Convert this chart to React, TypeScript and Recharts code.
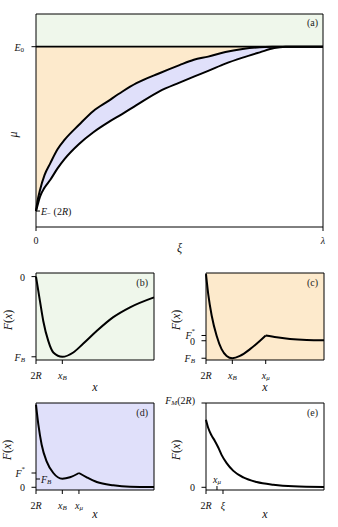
import {
  Area,
  ComposedChart,
  Line,
  ReferenceArea,
  ReferenceLine,
  XAxis,
  YAxis,
} from "recharts";

const FONT = "'Liberation Serif', 'DejaVu Serif', serif";
const GREEN = "#eff7eb";
const ORANGE = "#fdeacc";
const BLUE = "#e0e0fa";

// (a) mu vs xi
const E0 = 0.8465;
const EMinus = 0.075;
const aXi = [0, 0.005, 0.014, 0.03, 0.05, 0.075, 0.1, 0.15, 0.2, 0.25, 0.3, 0.35, 0.43, 0.5, 0.55, 0.6, 0.66, 0.72, 0.78, 0.83, 0.87, 0.9, 1];
const aUpper = [0.075, 0.12, 0.174, 0.245, 0.3, 0.365, 0.41, 0.48, 0.545, 0.59, 0.635, 0.675, 0.722, 0.76, 0.785, 0.8, 0.822, 0.836, 0.844, 0.846, 0.8465, 0.8465, 0.8465];
const aLower = [0.075, 0.1, 0.142, 0.185, 0.222, 0.275, 0.32, 0.39, 0.445, 0.49, 0.53, 0.572, 0.637, 0.678, 0.706, 0.733, 0.767, 0.795, 0.82, 0.84, 0.846, 0.8465, 0.8465];
const aXTicks = [0, 1];
const aXTickLabels = ["0", "λ"];
const aYTicks = [EMinus, E0];
const aYTickLabels = ["E_− (2R)", "E_0"];

// (b)
const bX = [0, 0.034, 0.062, 0.104, 0.147, 0.223, 0.316, 0.401, 0.514, 0.655, 0.797, 1.0];
const bF = [0, -0.309, -0.556, -0.802, -0.946, -1.0, -0.946, -0.835, -0.679, -0.506, -0.383, -0.259];
const bXTicks = [0, 0.223];
const bXTickLabels = ["2R", "x_B"];
const bYTicks = [-1, 0];
const bYTickLabels = ["F_B", "0"];

// (c)
const cX = [0, 0.02, 0.048, 0.09, 0.132, 0.175, 0.223, 0.288, 0.373, 0.458, 0.506, 0.599, 0.712, 0.853, 1.0];
const cF = [3.8, 2.6, 1.445, 0.289, -0.48, -0.867, -1.0, -0.867, -0.48, 0, 0.3, 0.197, 0.098, 0.04, 0.023];
const cXTicks = [0, 0.223, 0.506];
const cXTickLabels = ["2R", "x_B", "x_μ"];
const cYTicks = [-1, 0, 0.3];
const cYTickLabels = ["F_B", "0", "F^*"];

// (d)
const dX = [0, 0.02, 0.048, 0.09, 0.147, 0.223, 0.288, 0.364, 0.43, 0.515, 0.655, 0.797, 1.0];
const dF = [5.78, 4.38, 2.98, 1.82, 1.0, 0.6, 0.7, 1.0, 0.7, 0.37, 0.14, 0.04, 0.02];
const dXTicks = [0, 0.223, 0.364];
const dXTickLabels = ["2R", "x_B", "x_μ"];
const dYTicks = [0, 0.58, 1];
const dYTickLabels = ["0", "F_B", "F^*"];

// (e)
const eX = [0, 0.02, 0.048, 0.075, 0.104, 0.132, 0.175, 0.232, 0.316, 0.429, 0.57, 0.74, 1.0];
const eF = [0.8, 0.7, 0.613, 0.55, 0.472, 0.385, 0.287, 0.195, 0.117, 0.063, 0.031, 0.012, 0.004];
const eXTicks = [0, 0.144, 0.093];
const eXTickLabels = ["2R", "ξ", "x_μ"];
const eYTicks = [0, 1];
const eYTickLabels = ["0", "F_M(2R)"];

// tiny math-ish text: letters italic, _c subscript, ^c superscript
function math(s: string, fs: number) {
  const parts: any[] = [];
  let cur = 0;
  for (let i = 0, k = 0; i < s.length; i++, k++) {
    let ch = s[i];
    let shift = 0;
    if ((ch === "_" || ch === "^") && i + 1 < s.length) {
      shift = ch === "_" ? 0.3 * fs : -0.4 * fs;
      i++;
      ch = s[i];
    }
    const italic = /[A-Za-z\u0370-\u03ff]/.test(ch);
    parts.push(
      <tspan
        key={k}
        dy={shift - cur}
        fontSize={shift ? fs * 0.7 : fs}
        fontStyle={italic ? "italic" : "normal"}
      >
        {ch}
      </tspan>
    );
    cur = shift;
  }
  return parts;
}

function makeYTick(ticks: number[], labels: string[], inner: number[], gap: number, top: number) {
  return (props: any) => {
    const { x, y, payload } = props;
    const lab = labels[ticks.indexOf(payload.value)] ?? "";
    const isIn = inner.includes(payload.value);
    const dyTop = payload.value === top ? -3 : 0;
    return (
      <g>
        <line x1={x} x2={isIn ? x + 4 : x - 4.5} y1={y} y2={y} stroke="#000" strokeWidth={1} />
        <text
          x={isIn ? x + 5 : x - gap}
          y={y + dyTop}
          textAnchor={isIn ? "start" : "end"}
          dominantBaseline="central"
          fontSize={10}
          fontFamily={FONT}
          fill="#111"
        >
          {math(lab, 10)}
        </text>
      </g>
    );
  };
}

function makeXTick(ticks: number[], labels: string[], inner: number[], gap: number) {
  return (props: any) => {
    const { x, y, payload } = props;
    const lab = labels[ticks.indexOf(payload.value)] ?? "";
    const isIn = inner.includes(payload.value);
    return (
      <g>
        <line x1={x} x2={x} y1={y} y2={isIn ? y - 4 : y + 4} stroke="#000" strokeWidth={1} />
        <text
          x={x}
          y={isIn ? y - 11 : y + gap}
          textAnchor="middle"
          dominantBaseline="central"
          fontSize={10}
          fontFamily={FONT}
          fill="#111"
        >
          {math(lab, 10)}
        </text>
      </g>
    );
  };
}

function xTitle(txt: string, dy: number, fs: number) {
  return {
    content: (p: any) => {
      const vb = p.viewBox;
      return (
        <text
          x={vb.x + vb.width / 2}
          y={vb.y + dy}
          textAnchor="middle"
          dominantBaseline="central"
          fontSize={fs}
          fontFamily={FONT}
          fill="#111"
        >
          {math(txt, fs)}
        </text>
      );
    },
  };
}

function yTitle(txt: string, dx: number, dy: number, fs: number) {
  return {
    content: (p: any) => {
      const vb = p.viewBox;
      const cx = vb.x + dx;
      const cy = vb.y + vb.height / 2 + dy;
      return (
        <text
          x={cx}
          y={cy}
          transform={`rotate(-90 ${cx} ${cy})`}
          textAnchor="middle"
          dominantBaseline="central"
          fontSize={fs}
          fontFamily={FONT}
          fill="#111"
        >
          {math(txt, fs)}
        </text>
      );
    },
  };
}

const tagLabel = (t: string, off: number) => ({
  value: t,
  position: "insideTopRight" as const,
  offset: off,
  fontSize: 10,
  fontFamily: FONT,
  fill: "#222",
});

function PanelA() {
  const rows = aXi.map((xi, i) => ({
    xi,
    up: aUpper[i],
    lo: aLower[i],
    orange: [aUpper[i], E0],
    blue: [aLower[i], aUpper[i]],
  }));
  return (
    <ComposedChart
      width={338}
      height={260}
      data={rows}
      margin={{ top: 14, right: 15, bottom: 0, left: 0 }}
      style={{ position: "absolute", left: 0, top: 0 }}
    >
      <XAxis
        type="number"
        dataKey="xi"
        domain={[0, 1]}
        ticks={aXTicks}
        interval={0}
        height={33}
        axisLine={false}
        tickLine={false}
        tickSize={0}
        tickMargin={0}
        tick={makeXTick(aXTicks, aXTickLabels, [], 13)}
        label={xTitle("ξ", 21, 12)}
      />
      <YAxis
        type="number"
        domain={[0, 1]}
        ticks={aYTicks}
        interval={0}
        width={36}
        axisLine={false}
        tickLine={false}
        tickSize={0}
        tickMargin={0}
        allowDataOverflow
        tick={makeYTick(aYTicks, aYTickLabels, [EMinus], 12, -99)}
        label={yTitle("μ", 13, 14, 12)}
      />
      <ReferenceArea x1={0} x2={1} y1={E0} y2={1} fill={GREEN} fillOpacity={1} stroke="none" />
      <Area dataKey="orange" type="monotone" fill={ORANGE} fillOpacity={1} stroke="none" isAnimationActive={false} />
      <Area dataKey="blue" type="monotone" fill={BLUE} fillOpacity={1} stroke="none" isAnimationActive={false} />
      <ReferenceLine y={E0} stroke="#000" strokeWidth={1.8} />
      <Line dataKey="up" type="monotone" stroke="#000" strokeWidth={2} dot={false} isAnimationActive={false} />
      <Line dataKey="lo" type="monotone" stroke="#000" strokeWidth={2} dot={false} isAnimationActive={false} />
      <ReferenceArea
        x1={0}
        x2={1}
        y1={0}
        y2={1}
        fill="none"
        stroke="#000"
        strokeWidth={1}
        label={tagLabel("(a)", 5)}
      />
    </ComposedChart>
  );
}

type SmallProps = {
  left: number;
  top: number;
  width: number;
  height: number;
  yAxisW: number;
  rightMargin: number;
  xAxisH: number;
  xs: number[];
  fs: number[];
  split?: number;
  yDomain: [number, number];
  xTicks: number[];
  xLabels: string[];
  xInner?: number[];
  yTicks: number[];
  yLabels: string[];
  yInner?: number[];
  bg: string;
  tag: string;
  titleDx: number;
};

function SmallPanel(p: SmallProps) {
  // split the curve at the cusp so the spline keeps the corner
  const rows = p.xs.map((x, i) => ({
    x,
    l: p.split === undefined || i <= p.split ? p.fs[i] : null,
    r: p.split !== undefined && i >= p.split ? p.fs[i] : null,
  }));
  return (
    <ComposedChart
      width={p.width}
      height={p.height}
      data={rows}
      margin={{ top: 13, right: p.rightMargin, bottom: 0, left: 0 }}
      style={{ position: "absolute", left: p.left, top: p.top }}
    >
      <XAxis
        type="number"
        dataKey="x"
        domain={[0, 1]}
        ticks={p.xTicks}
        interval={0}
        height={p.xAxisH}
        axisLine={false}
        tickLine={false}
        tickSize={0}
        tickMargin={0}
        tick={makeXTick(p.xTicks, p.xLabels, p.xInner ?? [], 15)}
        label={xTitle("x", p.xAxisH - 13, 12)}
      />
      <YAxis
        type="number"
        domain={p.yDomain}
        ticks={p.yTicks}
        interval={0}
        width={p.yAxisW}
        axisLine={false}
        tickLine={false}
        tickSize={0}
        tickMargin={0}
        allowDataOverflow
        tick={makeYTick(p.yTicks, p.yLabels, p.yInner ?? [], 11, p.yDomain[1])}
        label={yTitle("F(x)", p.titleDx, 3.5, 12)}
      />
      <ReferenceArea
        x1={0}
        x2={1}
        y1={p.yDomain[0]}
        y2={p.yDomain[1]}
        fill={p.bg}
        fillOpacity={1}
        stroke="none"
      />
      <Line dataKey="l" type="monotone" stroke="#000" strokeWidth={2} dot={false} connectNulls={false} isAnimationActive={false} />
      {p.split !== undefined && (
        <Line dataKey="r" type="monotone" stroke="#000" strokeWidth={2} dot={false} connectNulls={false} isAnimationActive={false} />
      )}
      <ReferenceArea
        x1={0}
        x2={1}
        y1={p.yDomain[0]}
        y2={p.yDomain[1]}
        fill="none"
        stroke="#000"
        strokeWidth={1}
        label={tagLabel(p.tag, 6)}
      />
    </ComposedChart>
  );
}

export default function App() {
  return (
    <div
      style={{
        position: "absolute",
        left: 0,
        top: 0,
        width: 338,
        height: 527,
        background: "#fff",
        fontFamily: FONT,
      }}
    >
      <PanelA />
      <SmallPanel
        left={0} top={260} width={170} height={140} yAxisW={36} rightMargin={16} xAxisH={40}
        xs={bX} fs={bF} yDomain={[-1.04, 0.045]}
        xTicks={bXTicks} xLabels={bXTickLabels} yTicks={bYTicks} yLabels={bYTickLabels}
        bg={GREEN} tag="(b)" titleDx={8}
      />
      <SmallPanel
        left={170} top={260} width={168} height={140} yAxisW={36} rightMargin={14} xAxisH={40}
        xs={cX} fs={cF} split={10} yDomain={[-1.1, 3.87]}
        xTicks={cXTicks} xLabels={cXTickLabels} yTicks={cYTicks} yLabels={cYTickLabels}
        bg={ORANGE} tag="(c)" titleDx={6}
      />
      <SmallPanel
        left={0} top={390} width={170} height={137} yAxisW={36} rightMargin={16} xAxisH={37}
        xs={dX} fs={dF} split={7} yDomain={[-0.19, 5.9]}
        xTicks={dXTicks} xLabels={dXTickLabels} yTicks={dYTicks} yLabels={dYTickLabels} yInner={[0.58]}
        bg={BLUE} tag="(d)" titleDx={7}
      />
      <SmallPanel
        left={150} top={390} width={188} height={137} yAxisW={56} rightMargin={14} xAxisH={37}
        xs={eX} fs={eF} yDomain={[-0.032, 1]}
        xTicks={eXTicks} xLabels={eXTickLabels} xInner={[0.093]} yTicks={eYTicks} yLabels={eYTickLabels}
        bg="#ffffff" tag="(e)" titleDx={26}
      />
    </div>
  );
}
